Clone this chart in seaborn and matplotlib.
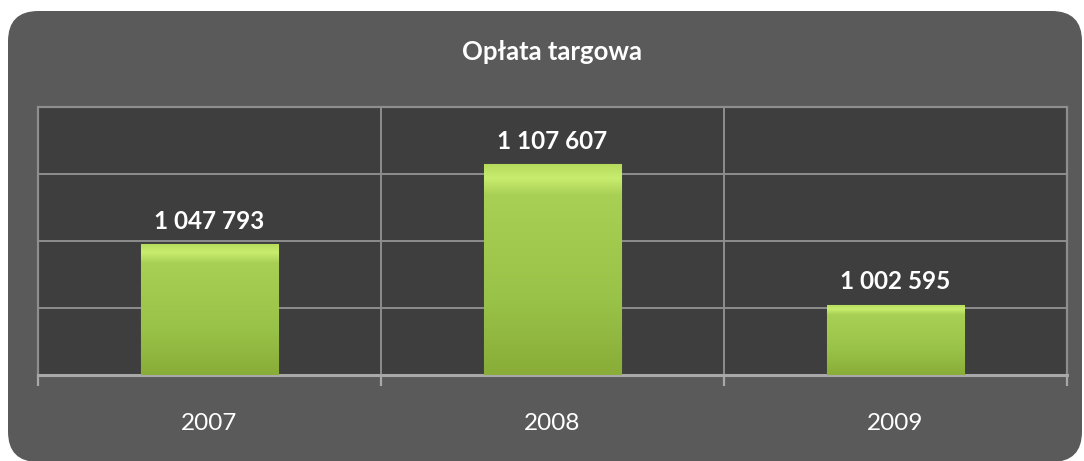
import numpy as np
import pandas as pd
import matplotlib
matplotlib.use("Agg")
import matplotlib.pyplot as plt
from matplotlib.patches import FancyBboxPatch
from matplotlib.colors import LinearSegmentedColormap
import seaborn as sns

years = ["2007", "2008", "2009"]
values = [1047793, 1107607, 1002595]
title = "Opłata targowa"
y_min, y_max, y_step = 950000, 1150000, 50000

sns.set_theme(style="dark")
plt.rcParams["font.family"] = ["Lato", "DejaVu Sans"]

fig = plt.figure(figsize=(10.84, 4.61), dpi=100)
fig.patch.set_facecolor("white")

# rounded dark background panel
bg = FancyBboxPatch((8 / 1084, -1 / 461), (1082 - 8) / 1084, (461 - 11 + 1) / 461,
                    boxstyle="round,pad=0,rounding_size=0.028",
                    transform=fig.transFigure, facecolor="#5a5a5a", edgecolor="none",
                    mutation_aspect=1084 / 461, zorder=-10)
fig.patches.append(bg)

ax = fig.add_axes([38 / 1084, 1 - 375 / 461, (1067 - 38) / 1084, (375 - 107) / 461])
ax.set_zorder(1)
ax.set_facecolor("#3e3e3e")

df = pd.DataFrame({"year": years, "value": values})
sns.barplot(data=df, x="year", y="value", ax=ax, width=0.4, color="#9dc84a",
            saturation=1, edgecolor="#7a9a30", linewidth=0.8, zorder=3)

ax.set_ylim(y_min, y_max)
ax.set_xlim(-0.5, len(years) - 0.5)
ax.set_yticks(np.arange(y_min, y_max + 1, y_step))
ax.set_yticklabels([])
ax.tick_params(axis="y", length=0)
ax.grid(False)
for yv in np.arange(y_min + y_step, y_max, y_step):
    ax.axhline(yv, color="#8e8e8e", lw=1.4, zorder=1)
for xv in np.arange(0.5, len(years) - 0.5, 1):
    ax.axvline(xv, color="#8e8e8e", lw=1.4, zorder=1)

for side in ["left", "top", "right", "bottom"]:
    ax.spines[side].set_visible(True)
    ax.spines[side].set_color("#8e8e8e")
    ax.spines[side].set_linewidth(1.6)
ax.spines["bottom"].set_color("#a8a8a8")
ax.spines["bottom"].set_linewidth(2.2)

# category separator ticks below the axis
ax.set_xticks(np.arange(-0.5, len(years), 1), minor=True)
ax.tick_params(axis="x", which="minor", length=8, width=1.6, color="#a8a8a8", bottom=True)
ax.tick_params(axis="x", which="major", length=0, pad=27, labelsize=17.5, labelcolor="white")
ax.set_xlabel("")
ax.set_ylabel("")

# gradient shading for bars
grad = np.linspace(0, 1, 256).reshape(-1, 1)
cmap = LinearSegmentedColormap.from_list(
    "g", [(0, "#89ad38"), (0.35, "#99c248"), (0.85, "#a8d054"), (0.93, "#c8ec6e"), (1, "#b4da5c")])
for p in ax.patches:
    x0, y0 = p.get_x(), p.get_y()
    w, h = p.get_width(), p.get_height()
    im = ax.imshow(grad, cmap=cmap, extent=[x0, x0 + w, y_min, y0 + h], origin="lower",
                   aspect="auto", zorder=3.5)
    im.set_clip_path(p)
ax.set_xlim(-0.5, len(years) - 0.5)
ax.set_ylim(y_min, y_max)

labels = [f"{v:,}".replace(",", " ") for v in values]
ax.bar_label(ax.containers[0], labels=labels, padding=8, color="white",
             fontsize=17.5, fontweight="bold")

fig.text(552 / 1084, 1 - 52 / 461, title, ha="center", va="center", color="white",
         fontsize=18.5, fontweight="bold")

fig.savefig("out.png", dpi=100, facecolor=fig.get_facecolor())
